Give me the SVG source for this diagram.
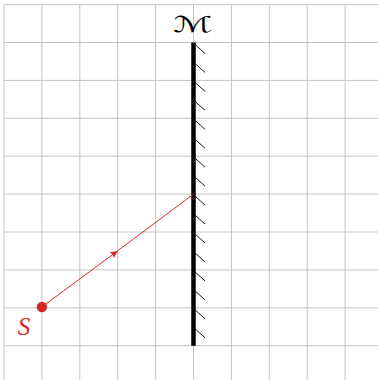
<svg xmlns="http://www.w3.org/2000/svg" width="378" height="380" viewBox="0 0 378 380">
  <style>
    .grid line { stroke: #c4c4c4; stroke-width: 1; }
    .hatch line { stroke: #1a1a1a; stroke-width: 1; }
    .ray { stroke: #d62728; stroke-width: 1; fill: none; }
    .lblS { font-family: "Liberation Serif", serif; font-style: italic; font-size: 25px; fill: #d62728; }
    .lblM { font-family: "DejaVu Serif", "DejaVu Sans", serif; font-size: 23px; fill: #000; }
  </style>
  <defs>
    <marker id="arr" viewBox="-8 -4 9 8" refX="0" refY="0" markerWidth="9" markerHeight="8" markerUnits="userSpaceOnUse" orient="auto">
      <path d="M0,0 L-7.5,-3.6 Q-5.2,0 -7.5,3.6 Z" fill="#d62728"/>
    </marker>
  </defs>
  <rect width="378" height="380" fill="#fff"/>
  <g id="grid" class="grid">
    <line x1="4" y1="4.6" x2="4" y2="380"/>
    <line x1="41.9" y1="4.6" x2="41.9" y2="380"/>
    <line x1="79.8" y1="4.6" x2="79.8" y2="380"/>
    <line x1="117.7" y1="4.6" x2="117.7" y2="380"/>
    <line x1="155.6" y1="4.6" x2="155.6" y2="380"/>
    <line x1="193.5" y1="4.6" x2="193.5" y2="380"/>
    <line x1="231.4" y1="4.6" x2="231.4" y2="380"/>
    <line x1="269.3" y1="4.6" x2="269.3" y2="380"/>
    <line x1="307.2" y1="4.6" x2="307.2" y2="380"/>
    <line x1="345.1" y1="4.6" x2="345.1" y2="380"/>
    <line x1="4" y1="4.6" x2="378" y2="4.6"/>
    <line x1="4" y1="42.5" x2="378" y2="42.5"/>
    <line x1="4" y1="80.4" x2="378" y2="80.4"/>
    <line x1="4" y1="118.3" x2="378" y2="118.3"/>
    <line x1="4" y1="156.2" x2="378" y2="156.2"/>
    <line x1="4" y1="194.1" x2="378" y2="194.1"/>
    <line x1="4" y1="232" x2="378" y2="232"/>
    <line x1="4" y1="269.9" x2="378" y2="269.9"/>
    <line x1="4" y1="307.8" x2="378" y2="307.8"/>
    <line x1="4" y1="345.7" x2="378" y2="345.7"/>
  </g>
  <g id="mirror">
    <line x1="193.5" y1="42.5" x2="193.5" y2="345.7" stroke="#000" stroke-width="4.5"/>
    <g class="hatch">
      <line x1="195" y1="44.5" x2="205" y2="53.5"/>
      <line x1="195" y1="63.45" x2="205" y2="72.45"/>
      <line x1="195" y1="82.4" x2="205" y2="91.4"/>
      <line x1="195" y1="101.35" x2="205" y2="110.35"/>
      <line x1="195" y1="120.3" x2="205" y2="129.3"/>
      <line x1="195" y1="139.25" x2="205" y2="148.25"/>
      <line x1="195" y1="158.2" x2="205" y2="167.2"/>
      <line x1="195" y1="177.15" x2="205" y2="186.15"/>
      <line x1="195" y1="196.1" x2="205" y2="205.1"/>
      <line x1="195" y1="215.05" x2="205" y2="224.05"/>
      <line x1="195" y1="234" x2="205" y2="243"/>
      <line x1="195" y1="252.95" x2="205" y2="261.95"/>
      <line x1="195" y1="271.9" x2="205" y2="280.9"/>
      <line x1="195" y1="290.85" x2="205" y2="299.85"/>
      <line x1="195" y1="309.8" x2="205" y2="318.8"/>
      <line x1="195" y1="328.75" x2="205" y2="337.75"/>
    </g>
  </g>
  <g id="label-M">
    <text class="lblM" transform="translate(192.5,31.5) scale(1.6,0.95)" x="0" y="0" text-anchor="middle">ℳ</text>
  </g>
  <g id="source-S">
    <circle cx="41.9" cy="307" r="5.2" fill="#d62728"/>
    <text class="lblS" x="24" y="335" text-anchor="middle">S</text>
  </g>
  <g id="connectors">
    <path class="ray" d="M41.9,307 L117.7,250.8 L193.5,194.1" marker-mid="url(#arr)"/>
  </g>
</svg>
